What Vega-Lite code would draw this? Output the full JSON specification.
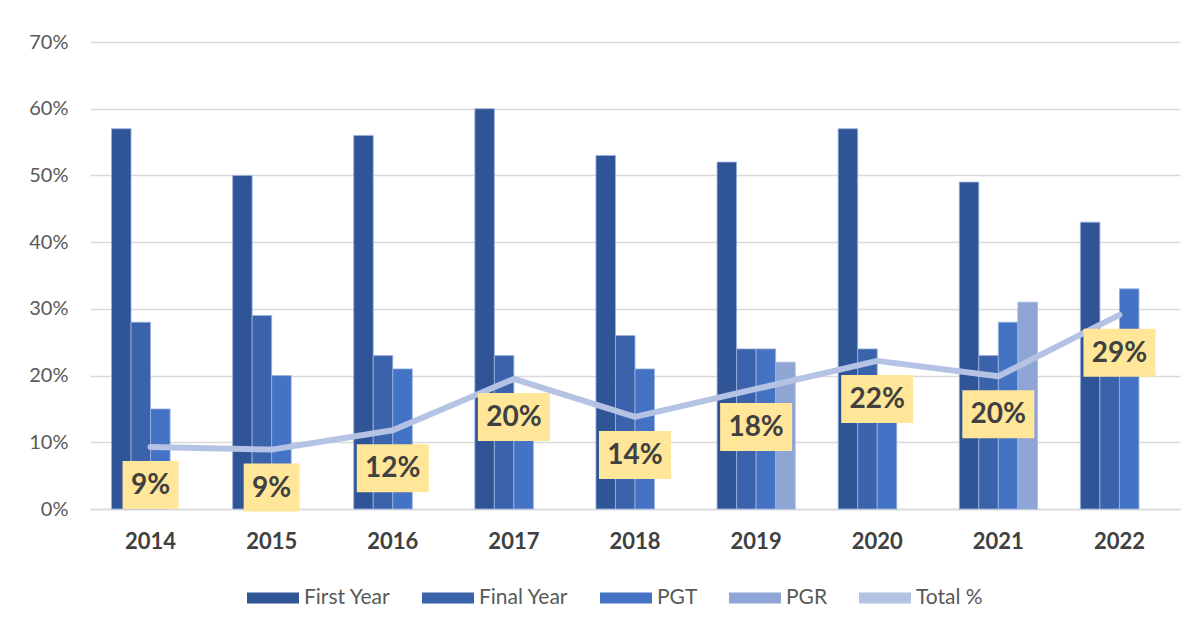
{
  "$schema": "https://vega.github.io/schema/vega-lite/v6.json",
  "width": 1090,
  "height": 467,
  "autosize": {"type": "none"},
  "padding": {"left": 90, "top": 42, "right": 20, "bottom": 118},
  "background": "white",
  "config": {
    "font": "Lato",
    "view": {"stroke": null},
    "axis": {"labelFont": "Lato", "titleFont": "Lato"}
  },
  "datasets": {
    "bars": [
      {"year": "2014", "series": "First Year", "value": 0.57},
      {"year": "2014", "series": "Final Year", "value": 0.28},
      {"year": "2014", "series": "PGT", "value": 0.15},
      {"year": "2015", "series": "First Year", "value": 0.50},
      {"year": "2015", "series": "Final Year", "value": 0.29},
      {"year": "2015", "series": "PGT", "value": 0.20},
      {"year": "2016", "series": "First Year", "value": 0.56},
      {"year": "2016", "series": "Final Year", "value": 0.23},
      {"year": "2016", "series": "PGT", "value": 0.21},
      {"year": "2017", "series": "First Year", "value": 0.60},
      {"year": "2017", "series": "Final Year", "value": 0.23},
      {"year": "2017", "series": "PGT", "value": 0.16},
      {"year": "2018", "series": "First Year", "value": 0.53},
      {"year": "2018", "series": "Final Year", "value": 0.26},
      {"year": "2018", "series": "PGT", "value": 0.21},
      {"year": "2019", "series": "First Year", "value": 0.52},
      {"year": "2019", "series": "Final Year", "value": 0.24},
      {"year": "2019", "series": "PGT", "value": 0.24},
      {"year": "2019", "series": "PGR", "value": 0.22},
      {"year": "2020", "series": "First Year", "value": 0.57},
      {"year": "2020", "series": "Final Year", "value": 0.24},
      {"year": "2020", "series": "PGT", "value": 0.17},
      {"year": "2021", "series": "First Year", "value": 0.49},
      {"year": "2021", "series": "Final Year", "value": 0.23},
      {"year": "2021", "series": "PGT", "value": 0.28},
      {"year": "2021", "series": "PGR", "value": 0.31},
      {"year": "2022", "series": "First Year", "value": 0.43},
      {"year": "2022", "series": "Final Year", "value": 0.23},
      {"year": "2022", "series": "PGT", "value": 0.33}
    ],
    "totals": [
      {"year": "2014", "series": "Total %", "total": 0.093},
      {"year": "2015", "series": "Total %", "total": 0.089},
      {"year": "2016", "series": "Total %", "total": 0.118},
      {"year": "2017", "series": "Total %", "total": 0.195},
      {"year": "2018", "series": "Total %", "total": 0.138},
      {"year": "2019", "series": "Total %", "total": 0.180},
      {"year": "2020", "series": "Total %", "total": 0.222},
      {"year": "2021", "series": "Total %", "total": 0.199},
      {"year": "2022", "series": "Total %", "total": 0.291}
    ]
  },
  "encoding": {
    "x": {
      "field": "year",
      "type": "nominal",
      "scale": {"paddingInner": 0.355, "paddingOuter": 0.1775},
      "axis": {
        "title": null,
        "labelAngle": 0,
        "labelFontSize": 22,
        "labelFontWeight": "bold",
        "labelColor": "#404040",
        "labelPadding": 22,
        "ticks": false,
        "domainColor": "#d9d9d9",
        "domainWidth": 1.5
      }
    }
  },
  "layer": [
    {
      "data": {"name": "bars"},
      "mark": {"type": "bar", "stroke": "#9DB3E0", "strokeWidth": 0.8},
      "encoding": {
        "xOffset": {
          "field": "series",
          "type": "nominal",
          "scale": {"domain": ["First Year", "Final Year", "PGT", "PGR"], "paddingInner": 0, "paddingOuter": 0}
        },
        "y": {
          "field": "value",
          "type": "quantitative",
          "scale": {"domain": [0, 0.7]},
          "axis": {
            "title": null,
            "format": ".0%",
            "values": [0, 0.1, 0.2, 0.3, 0.4, 0.5, 0.6, 0.7],
            "labelFontSize": 20,
            "labelColor": "#595959",
            "labelPadding": 22,
            "ticks": false,
            "domain": false,
            "gridColor": "#d9d9d9",
            "gridWidth": 1.5
          }
        },
        "color": {
          "field": "series",
          "type": "nominal",
          "scale": {
            "domain": ["First Year", "Final Year", "PGT", "PGR", "Total %"],
            "range": ["#2F5597", "#3A63AC", "#4472C4", "#8FA5D6", "#B4C2E3"]
          },
          "legend": {
            "title": null,
            "orient": "none",
            "legendX": 157,
            "legendY": 530,
            "direction": "horizontal",
            "labelFontSize": 21,
            "labelColor": "#595959",
            "labelFont": "Lato",
            "symbolType": "M-1,-0.21H1V0.21H-1Z",
            "symbolSize": 2704,
            "symbolOpacity": 1,
            "symbolStrokeWidth": 0,
            "labelOffset": 5,
            "columnPadding": 31
          }
        }
      }
    },
    {
      "data": {"name": "totals"},
      "mark": {"type": "line", "strokeWidth": 6, "strokeCap": "round", "strokeJoin": "round"},
      "encoding": {
        "y": {"field": "total", "type": "quantitative"},
        "color": {"field": "series", "type": "nominal"}
      }
    },
    {
      "data": {"name": "totals"},
      "mark": {"type": "point", "filled": true, "opacity": 1, "yOffset": 38, "color": "#FFE699", "strokeWidth": 0},
      "encoding": {
        "y": {"field": "total", "type": "quantitative"},
        "size": {"value": 2304},
        "shape": {
          "condition": {"test": "datum.total < 0.095", "value": "M-1.167,-1H1.167V1H-1.167Z"},
          "value": "M-1.5,-1H1.5V1H-1.5Z"
        }
      }
    },
    {
      "data": {"name": "totals"},
      "mark": {"type": "text", "yOffset": 39, "fontSize": 28, "fontWeight": "bold", "color": "#404040", "font": "Lato", "baseline": "middle", "align": "center"},
      "encoding": {
        "y": {"field": "total", "type": "quantitative"},
        "text": {"field": "total", "type": "quantitative", "format": ".0%"}
      }
    }
  ]
}
